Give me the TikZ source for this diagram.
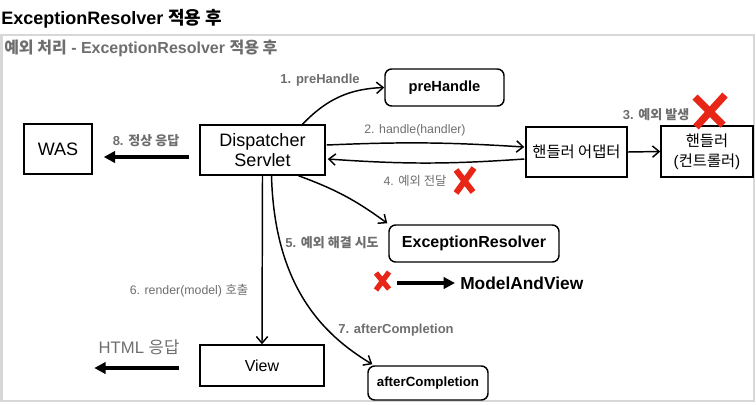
\documentclass[tikz,border=0pt]{standalone}
\usepackage{fontspec}
\setmainfont{Liberation Sans}
\newfontfamily\kr{Noto Sans CJK KR}
\usetikzlibrary{arrows.meta,calc}
\newcommand\K[1]{{\kr #1}}
\definecolor{lg}{RGB}{110,110,110}
\definecolor{xred}{RGB}{232,38,24}
\definecolor{framegray}{RGB}{215,215,215}
\begin{document}
\begin{tikzpicture}[x=0.75pt,y=-0.75pt,
  box/.style={draw, line width=1.1pt, inner sep=0pt, align=center, font=\fontsize{13.5}{15}\selectfont},
  rbox/.style={box, rounded corners=5pt},
  lab/.style={text=lg, inner sep=0pt, font=\fontsize{9.25}{11}\selectfont},
  blab/.style={text=lg, inner sep=0pt, font=\bfseries\fontsize{9.75}{11}\selectfont},
  conn/.style={line width=1.1pt, -{Straight Barb[length=5pt,width=8.5pt]}},
  fat/.style={line width=2.6pt, -{Triangle[length=8.5pt,width=8.5pt]}},
  xmark/.style={draw=xred, line width=4.5pt}]
\useasboundingbox (0,0) rectangle (756,404);
% title and frame
\node[anchor=west, inner sep=0pt, font=\bfseries\fontsize{13.5}{15}\selectfont] (title) at (1,19) {ExceptionResolver \K{적용 후}};
\draw[framegray, line width=1.5pt] (1.5,34.5) rectangle (754,401);
\node[anchor=west, inner sep=0pt, text=lg, font=\bfseries\fontsize{12}{14}\selectfont] (sub) at (4,48) {\K{예외 처리} - ExceptionResolver \K{적용 후}};
% nodes
\node[box, minimum width=51pt, minimum height=37.5pt] (was) at (58,149) {WAS};
\node[box, minimum width=93.75pt, minimum height=37.5pt] (ds) at (262.5,150) {Dispatcher\\Servlet};
\node[rbox, minimum width=89.25pt, minimum height=27.75pt, font=\bfseries\fontsize{11}{13}\selectfont] (pre) at (444.5,87.5) {preHandle};
\node[box, minimum width=75.75pt, minimum height=37.5pt, font=\fontsize{11.5}{14}\selectfont] (ad) at (576.5,152) {\K{핸들러 어댑터}};
\node[box, minimum width=69pt, minimum height=38.25pt, font=\fontsize{11.5}{15}\selectfont] (h) at (707,151.5) {\K{핸들러}\\(\K{컨트롤러})};
\node[rbox, minimum width=127.5pt, minimum height=27.75pt, font=\bfseries\fontsize{12}{14}\selectfont] (er) at (474,243.5) {ExceptionResolver};
\node[box, minimum width=93pt, minimum height=30.75pt, font=\fontsize{12}{14}\selectfont] (view) at (262,365.5) {View};
\node[rbox, minimum width=90pt, minimum height=25.5pt, font=\bfseries\fontsize{10}{12}\selectfont] (ac) at (428,383) {afterCompletion};
\node[anchor=west, inner sep=0pt, font=\bfseries\fontsize{13}{15}\selectfont] (mav) at (460,283) {ModelAndView};
% labels
\node[blab] (l8) at (146,141) {8. \K{정상 응답}};
\node[blab] (l1) at (320,80) {1. preHandle};
\node[lab] (l2) at (415,130) {2. handle(handler)};
\node[blab] (l3) at (656,115) {3. \K{예외 발생}};
\node[lab] (l4) at (415,181) {4. \K{예외 전달}};
\node[blab] (l5) at (332,243) {5. \K{예외 해결 시도}};
\node[lab] (l6) at (189,291) {6. render(model) \K{호출}};
\node[blab] (l7) at (396,330) {7. afterCompletion};
\node[lab, font=\fontsize{12.5}{14}\selectfont] (lhtml) at (139,347) {HTML \K{응답}};
% free ends of thick arrows
\coordinate (a8s) at ($(ds.west)+(-10,7)$);
\coordinate (a8e) at ($(was.east)+(11,8)$);
\coordinate (hs) at ($(view.west)+(-20,2.5)$);
\coordinate (he) at ($(view.west)+(-105,2.5)$);
\coordinate (ms) at ($(mav.west)+(-63,0)$);
\coordinate (me) at ($(mav.west)+(-5,0)$);
% connectors
\draw[conn] ($(ds.north)+(40,0)$) to[bend left=22] (pre.west);
\draw[conn] ($(ds.east)+(1,-5)$) to[bend left=3] ($(ad.west)+(-1,-5)$);
\draw[conn] ($(ad.west)+(-1,7)$) to[bend left=4] ($(ds.east)+(2,9)$);
\draw[conn] (ad.east) -- (h.west);
\draw[conn] ($(ds.south)+(36,0)$) to[bend left=8] ($(er.north west)+(-1,-1)$);
\draw[conn] (ds.south) -- (view.north);
\draw[conn] ($(ds.south)+(9,0)$) .. controls +(3,110) and +(-50,-30) .. ($(ac.north west)+(5,-1)$);
\draw[fat] (a8s) -- (a8e);
\draw[fat] (hs) -- (he);
\draw[fat] (ms) -- (me);
% red X marks
\draw[xmark, line width=5.5pt] (695,97) -- (723,125) (725,95) -- (696,127);
\draw[xmark] (456,170) -- (473,192) (474,168) -- (456,193);
\draw[xmark, line width=4pt] (376,273) -- (389,289) (389,272) -- (376,290);
\end{tikzpicture}
\end{document}
